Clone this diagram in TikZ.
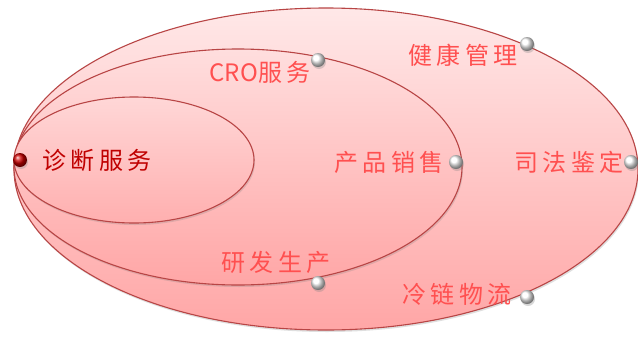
\documentclass[tikz,border=0pt]{standalone}
\usepackage{fontspec}
\newfontfamily\cjk[LetterSpace=18]{Noto Sans CJK SC}
\newfontfamily\cjklat{Noto Sans CJK SC}
\usetikzlibrary{shadows,shadings}
\definecolor{edge}{HTML}{B84545}
\definecolor{txt}{HTML}{FF5050}
\definecolor{dtxt}{HTML}{C00000}
\definecolor{pinkbot}{HTML}{FFA6A6}
\definecolor{top1}{HTML}{FFE8E8}
\definecolor{top2}{HTML}{FFDEDE}
\definecolor{top3}{HTML}{FFD7D7}
\definecolor{bot3}{HTML}{FFAFAF}
\tikzset{
  ring/.style 2 args={draw=edge, line width=1.1pt, top color=#1, bottom color=#2,
    drop shadow={shadow xshift=1pt, shadow yshift=-2pt, opacity=0.25}},
  lab/.style={font=\cjk\fontsize{24}{24}\selectfont, text=txt, inner sep=0pt},
  knob/.style={circle, minimum size=14pt, inner sep=0pt, ball color=white,
    drop shadow={shadow xshift=1pt, shadow yshift=-2pt, opacity=0.3}},
}
\begin{document}
\begin{tikzpicture}[x=1pt,y=-1pt]
\useasboundingbox (0,0) rectangle (638,338);
\clip (0,0) rectangle (638,338);
\fill[white] (0,0) rectangle (638,338);
\path[ring={top1}{pinkbot}] (326,169) ellipse [x radius=312, y radius=161];
\path[ring={top2}{pinkbot}] (238,167) ellipse [x radius=224, y radius=118];
\path[ring={top3}{bot3}] (134,160) ellipse [x radius=120, y radius=63];
\node[lab, text=dtxt] (zd) at (97,160) {诊断服务};
\node[lab] (cro) at (260,72) {{\cjklat CRO}服务};
\node[lab] (jk) at (463,55) {健康管理};
\node[lab] (cp) at (389,162) {产品销售};
\node[lab] (sf) at (569,162) {司法鉴定};
\node[lab] (yf) at (276,262) {研发生产};
\node[lab] (ll) at (457,294) {冷链物流};
\node[knob, ball color=red!80!black] (b0) at (20,160) {};
\node[knob] (b1) at (318,60) {};
\node[knob] (b2) at (527,44) {};
\node[knob] (b3) at (456,162) {};
\node[knob] (b4) at (631,162) {};
\node[knob] (b5) at (318,283) {};
\node[knob] (b6) at (527,297) {};
\end{tikzpicture}
\end{document}
